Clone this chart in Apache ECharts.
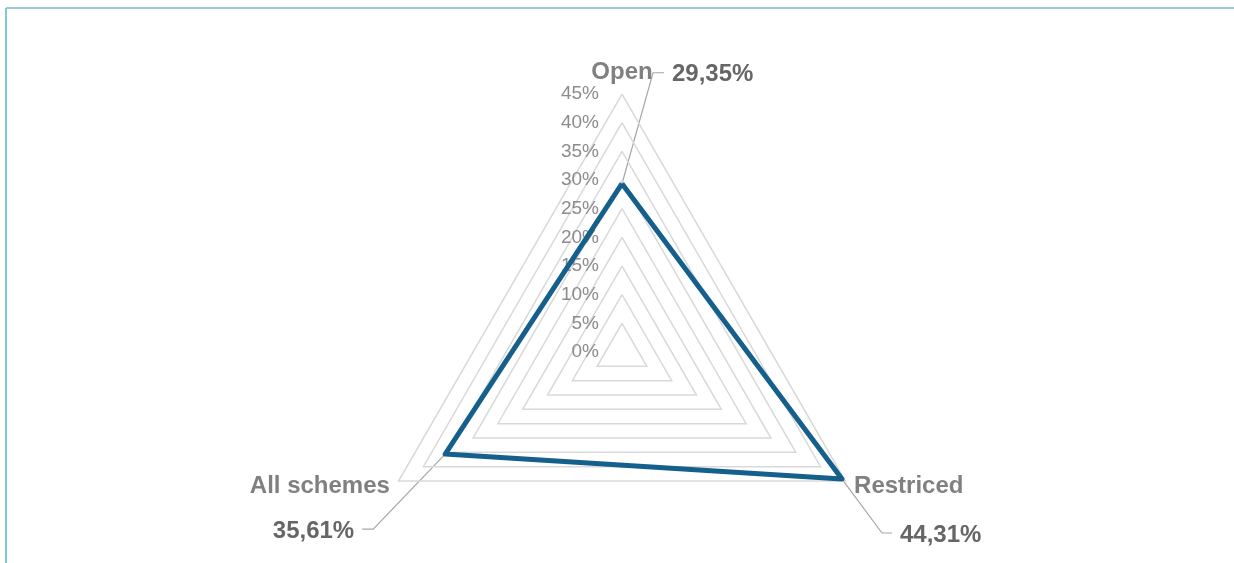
<!DOCTYPE html>
<html>
<head>
<meta charset="utf-8">
<script src="https://cdn.jsdelivr.net/npm/echarts@6/dist/echarts.min.js"></script>
<style>
  html, body { margin: 0; padding: 0; background: #ffffff; }
  #chart { width: 1234px; height: 563px; }
</style>
</head>
<body>
<div id="chart"></div>
<script>
// Scheme categories, in radar order (top, then counter-clockwise)
const categories = ['Open', 'All schemes', 'Restriced'];
// Share per scheme, in percent
const shares = [29.35, 35.61, 44.31];
// Radial scale
const axisMax = 45;
const axisStep = 5;
const tickLabels = ['0%', '5%', '10%', '15%', '20%', '25%', '30%', '35%', '40%', '45%'];

const FONT = "'Liberation Sans', Arial, sans-serif";

// Leader-line geometry for the value call-outs, relative to each data point
const calloutLayout = [
  { elbow: [31, -111], run: 11, gap: 8, align: 'left' },
  { elbow: [-72, 75], run: -11, gap: 8, align: 'right' },
  { elbow: [40, 54], run: 10, gap: 8, align: 'left' }
];

function formatShare(v) {
  return v.toFixed(2).replace('.', ',') + '%';
}

const chart = echarts.init(document.getElementById('chart'), null, { renderer: 'canvas' });

const option = {
  animation: false,
  backgroundColor: '#ffffff',
  radar: {
    center: [622, 352],
    radius: 258,
    startAngle: 90,
    shape: 'polygon',
    splitNumber: axisMax / axisStep,
    nameGap: 10,
    axisName: {
      color: '#808080',
      fontSize: 24,
      fontWeight: 'bold',
      fontFamily: FONT
    },
    indicator: categories.map(function (name, i) {
      const ind = { name: name, min: 0, max: axisMax };
      if (i === 0) {
        ind.axisLabel = {
          show: true,
          color: '#8c8c8c',
          fontSize: 19,
          fontFamily: FONT,
          margin: 23,
          formatter: function (v) { return tickLabels[Math.round(v / axisStep)]; }
        };
      }
      return ind;
    }),
    splitLine: { lineStyle: { color: '#d9d9d9', width: 1.5 } },
    splitArea: { show: false },
    axisLine: { show: false },
    axisTick: { show: false },
    axisLabel: { show: false }
  },
  series: [{
    type: 'radar',
    symbol: 'none',
    lineStyle: { color: '#155f8c', width: 5 },
    data: [{ value: shares, name: 'Share' }]
  }],
  graphic: []
};

chart.setOption(option);

// Value call-outs with leader lines, anchored on the radar's own coordinate system
(function addCallouts() {
  let points;
  try {
    const cs = chart.getModel().getComponent('radar', 0).coordinateSystem;
    points = shares.map(function (v, i) { return cs.dataToPoint(v, i); });
  } catch (e) {
    const step = Math.PI * 2 / categories.length;
    points = shares.map(function (v, i) {
      const a = Math.PI / 2 + i * step;
      const r = v / axisMax * 258;
      return [622 + r * Math.cos(a), 352 - r * Math.sin(a)];
    });
  }
  const elements = [
    // frame lines
    { type: 'line', shape: { x1: 6, y1: 8, x2: 1234, y2: 8 }, style: { stroke: '#9ccbd9', lineWidth: 2 }, silent: true },
    { type: 'line', shape: { x1: 6, y1: 8, x2: 6, y2: 563 }, style: { stroke: '#86c4d6', lineWidth: 2 }, silent: true }
  ];
  points.forEach(function (p, i) {
    const L = calloutLayout[i];
    const ex = p[0] + L.elbow[0];
    const ey = p[1] + L.elbow[1];
    const hx = ex + L.run;
    elements.push({
      type: 'polyline',
      shape: { points: [[p[0], p[1]], [ex, ey], [hx, ey]] },
      style: { stroke: '#a6a6a6', lineWidth: 1.2, fill: null },
      silent: true
    });
    elements.push({
      type: 'text',
      x: L.align === 'left' ? hx + L.gap : hx - L.gap,
      y: ey + 2,
      style: {
        text: formatShare(shares[i]),
        fill: '#666666',
        font: 'bold 24px ' + FONT,
        align: L.align,
        verticalAlign: 'middle'
      },
      silent: true
    });
  });
  chart.setOption({ graphic: elements });
})();
</script>
</body>
</html>
